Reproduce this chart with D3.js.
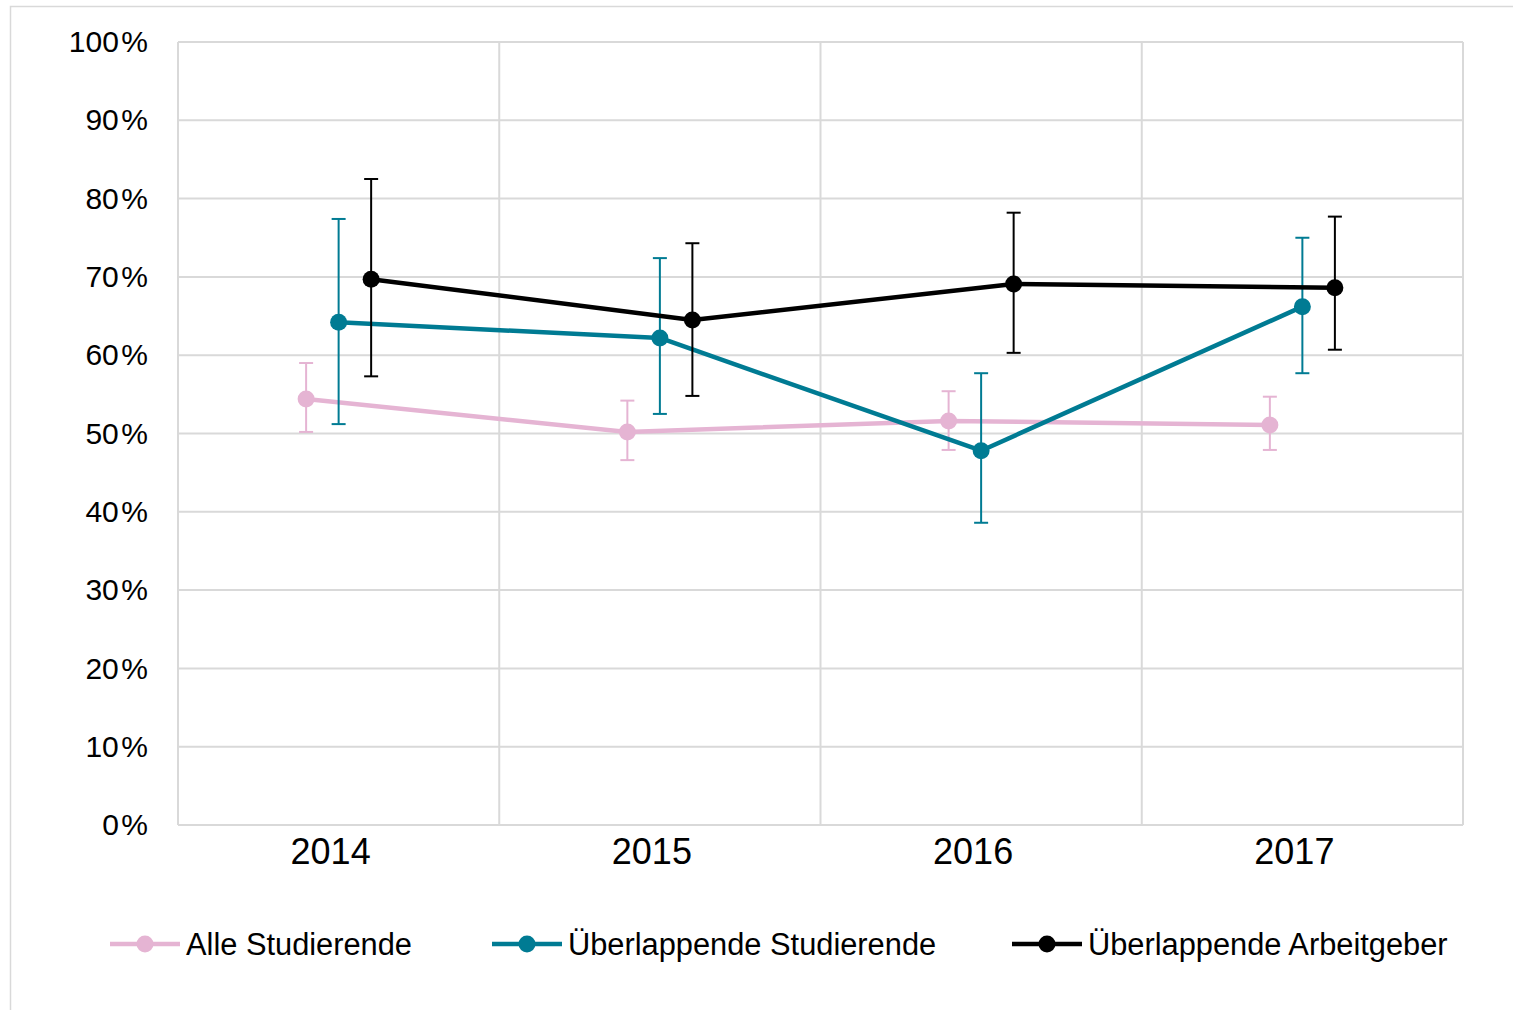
<!DOCTYPE html>
<html>
<head>
<meta charset="utf-8">
<script src="https://cdn.jsdelivr.net/npm/d3@7"></script>
<style>
  html, body { margin: 0; padding: 0; background: #fff; }
  svg { display: block; font-family: "Liberation Sans", Arial, sans-serif; }
</style>
</head>
<body>
<svg id="chart" width="1513" height="1010"></svg>
<script>
// Survey years
const years = ["2014", "2015", "2016", "2017"];

// Series names (legend order)
const seriesNames = ["Alle Studierende", "Überlappende Studierende", "Überlappende Arbeitgeber"];
const seriesColors = ["#E5B4D3", "#007B93", "#000000"];

// Share values in percent, with lower and upper bounds of the error bars
const alleValues = [54.4, 50.2, 51.6, 51.1];
const alleLow    = [50.2, 46.6, 47.9, 47.9];
const alleHigh   = [59.0, 54.2, 55.4, 54.7];

const studValues = [64.2, 62.2, 47.8, 66.2];
const studLow    = [51.2, 52.5, 38.6, 57.7];
const studHigh   = [77.4, 72.4, 57.7, 75.0];

const arbValues  = [69.7, 64.5, 69.1, 68.6];
const arbLow     = [57.3, 54.8, 60.3, 60.7];
const arbHigh    = [82.5, 74.3, 78.2, 77.7];

const yTicks = [0, 10, 20, 30, 40, 50, 60, 70, 80, 90, 100];

const series = [
  { name: seriesNames[0], color: seriesColors[0], values: alleValues, low: alleLow, high: alleHigh },
  { name: seriesNames[1], color: seriesColors[1], values: studValues, low: studLow, high: studHigh },
  { name: seriesNames[2], color: seriesColors[2], values: arbValues,  low: arbLow,  high: arbHigh }
];

const svg = d3.select("#chart");
const grid = "#D9D9D9";

// outer chart frame
svg.append("rect")
  .attr("x", 10.5).attr("y", 6.5)
  .attr("width", 1520).attr("height", 1020)
  .attr("fill", "none").attr("stroke", grid).attr("stroke-width", 1.5);

const plot = { left: 178, right: 1463, top: 42, bottom: 825 };

const x = d3.scaleBand().domain(years).range([plot.left, plot.right]).padding(0);
const xs = d3.scaleBand().domain(d3.range(series.length)).range([0, x.bandwidth()]).paddingInner(0).paddingOuter(3.44);
const y = d3.scaleLinear().domain([0, 100]).range([plot.bottom, plot.top]);

// horizontal gridlines
svg.append("g").selectAll("line").data(yTicks).join("line")
  .attr("x1", plot.left).attr("x2", plot.right)
  .attr("y1", d => y(d)).attr("y2", d => y(d))
  .attr("stroke", grid).attr("stroke-width", 2);

// vertical gridlines at category boundaries
const bounds = years.map(d => x(d)).concat([plot.right]);
svg.append("g").selectAll("line").data(bounds).join("line")
  .attr("x1", d => d).attr("x2", d => d)
  .attr("y1", plot.top).attr("y2", plot.bottom)
  .attr("stroke", grid).attr("stroke-width", 2);

// y axis labels
const yAxis = d3.axisLeft(y).tickValues(yTicks).tickSize(0).tickPadding(30)
  .tickFormat(d => d + "\u200A%");
const gy = svg.append("g").attr("transform", `translate(${plot.left},0)`).call(yAxis);
gy.select(".domain").remove();
gy.selectAll("text")
  .attr("font-size", 30).attr("fill", "#000")
  .attr("font-family", "Liberation Sans, Arial, sans-serif");

// x axis labels
const xAxis = d3.axisBottom(x).tickSize(0).tickPadding(13);
const gx = svg.append("g").attr("transform", `translate(-8,${plot.bottom})`).call(xAxis);
gx.select(".domain").remove();
gx.selectAll("text")
  .attr("font-size", 36).attr("fill", "#000")
  .attr("font-family", "Liberation Sans, Arial, sans-serif");

const px = (i, yr) => x(yr) + xs(i) + xs.bandwidth() / 2;

// series
series.forEach((s, i) => {
  const g = svg.append("g");
  const pts = years.map((yr, j) => ({ yr, v: s.values[j], lo: s.low[j], hi: s.high[j] }));

  const line = d3.line().x(d => px(i, d.yr)).y(d => y(d.v));
  g.append("path").datum(pts)
    .attr("d", line).attr("fill", "none")
    .attr("stroke", s.color).attr("stroke-width", 4.5).attr("stroke-linejoin", "round");

  // error bars
  const eb = g.append("g").selectAll("g").data(pts).join("g");
  eb.append("line")
    .attr("x1", d => px(i, d.yr)).attr("x2", d => px(i, d.yr))
    .attr("y1", d => y(d.lo)).attr("y2", d => y(d.hi))
    .attr("stroke", s.color).attr("stroke-width", 2);
  [d => d.lo, d => d.hi].forEach(acc => {
    eb.append("line")
      .attr("x1", d => px(i, d.yr) - 7).attr("x2", d => px(i, d.yr) + 7)
      .attr("y1", d => y(acc(d))).attr("y2", d => y(acc(d)))
      .attr("stroke", s.color).attr("stroke-width", 2);
  });

  g.append("g").selectAll("circle").data(pts).join("circle")
    .attr("cx", d => px(i, d.yr)).attr("cy", d => y(d.v))
    .attr("r", 8.5).attr("fill", s.color);
});

// legend
const legendX = [110, 492, 1012];
const legendY = 944;
const lg = svg.append("g").selectAll("g").data(series).join("g")
  .attr("transform", (d, i) => `translate(${legendX[i]},${legendY})`);
lg.append("line").attr("x1", 0).attr("x2", 70).attr("y1", 0).attr("y2", 0)
  .attr("stroke", d => d.color).attr("stroke-width", 4.5);
lg.append("circle").attr("cx", 35).attr("cy", 0).attr("r", 8.5).attr("fill", d => d.color);
lg.append("text").attr("x", 76).attr("y", 0).attr("dy", "0.36em")
  .attr("font-size", 30.8).attr("fill", "#000").text(d => d.name);
</script>
</body>
</html>
